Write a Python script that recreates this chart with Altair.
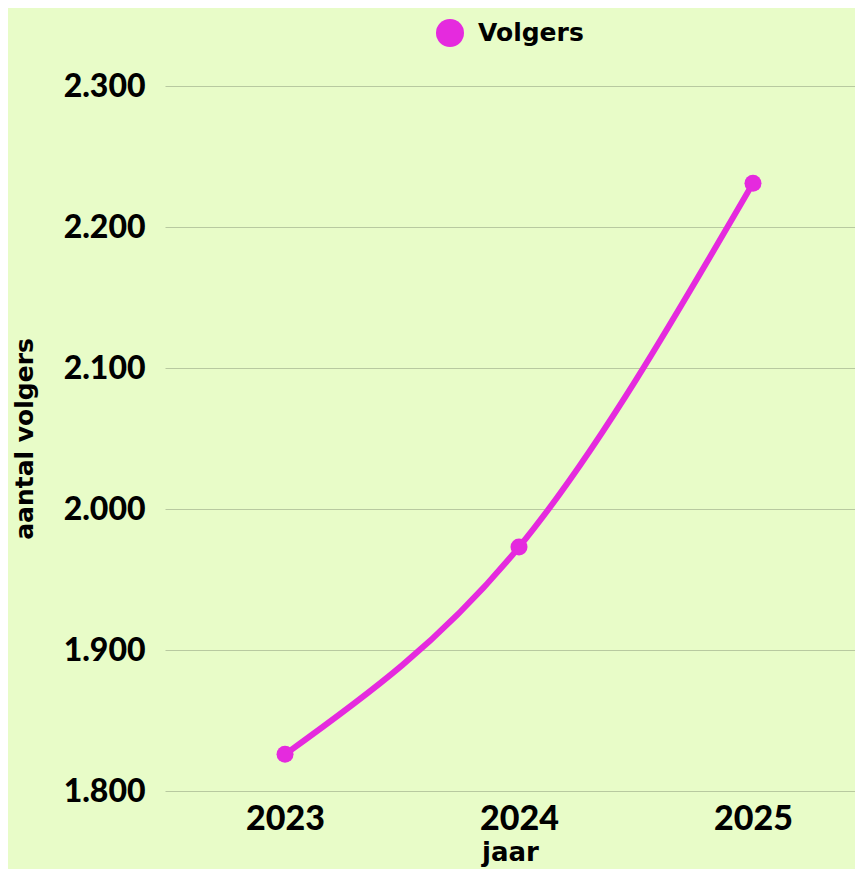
import altair as alt
import pandas as pd

years = [2023, 2024, 2025]
volgers = [1826, 1973, 2231]
series = ["Volgers", "Volgers", "Volgers"]

df = pd.DataFrame({"jaar": years, "volgers": volgers, "reeks": series})

NUM_FONT = "Lato"
TXT_FONT = "DejaVu Sans"
MAGENTA = "#e52ade"
BG = "#e8fcc8"

x = alt.X(
    "jaar:Q",
    title="jaar",
    scale=alt.Scale(domain=[2022.487, 2025.436], nice=False, zero=False),
    axis=alt.Axis(values=years, format="d", grid=False, domain=False, ticks=False,
                  labelFontSize=34, labelPadding=11, titleFontSize=26, titlePadding=3),
)
y = alt.Y(
    "volgers:Q",
    title="aantal volgers",
    scale=alt.Scale(domain=[1800, 2300], nice=False, zero=False),
    axis=alt.Axis(values=[1800, 1900, 2000, 2100, 2200, 2300],
                  labelExpr="replace(format(datum.value, ','), ',', '.')",
                  domain=False, ticks=False, labelFontSize=32, labelPadding=20,
                  titleFontSize=25, titlePadding=26),
)
color = alt.Color(
    "reeks:N",
    title=None,
    scale=alt.Scale(range=[MAGENTA]),
    legend=alt.Legend(orient="none", legendX=271, legendY=-67, symbolType="circle",
                      symbolSize=784, symbolStrokeWidth=0, labelFontSize=25,
                      labelOffset=14),
)

base = alt.Chart(df).encode(x=x, y=y, color=color)
line = base.mark_line(interpolate="monotone", strokeWidth=6)
pts = base.mark_circle(size=289, opacity=1)

chart = (
    alt.layer(line, pts)
    .properties(width=690, height=705, background=BG,
                autosize=alt.AutoSizeParams(type="none"),
                padding={"left": 157, "top": 78, "right": 0, "bottom": 78})
    .configure_view(stroke=None)
    .configure_axis(labelFont=NUM_FONT, titleFont=TXT_FONT, labelFontWeight=900,
                    titleFontWeight="bold", labelColor="#000000", titleColor="#000000",
                    gridColor="#b8c9a0", gridWidth=1)
    .configure_legend(labelFont=TXT_FONT, labelFontWeight="bold", labelColor="#000000")
)

chart.save("out.html", embed_options={"renderer": "svg", "actions": False})
